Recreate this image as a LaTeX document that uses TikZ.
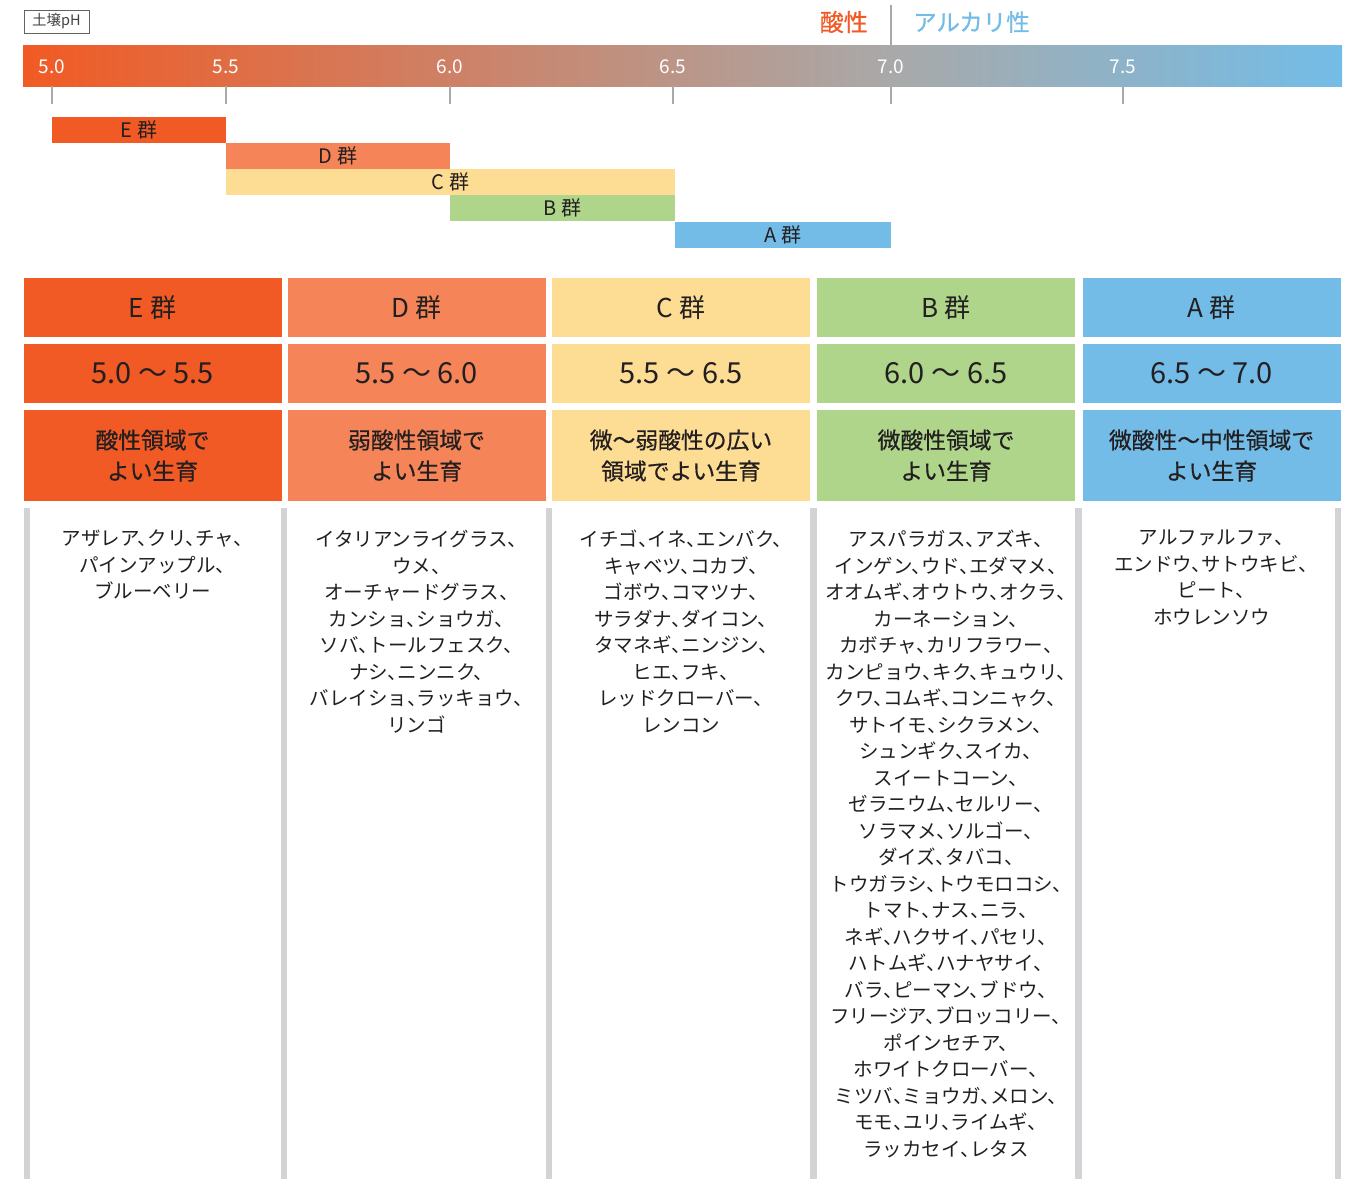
\documentclass[tikz,border=0pt]{standalone}
\usepackage{fontspec}
\setmainfont{Noto Sans CJK JP}
\newfontfamily\jp{Noto Sans CJK JP}
\newfontfamily\jpp{Noto Sans CJK JP}[RawFeature=+halt]
\newfontfamily\jpm{Noto Sans CJK JP}[FakeBold=0.6]
\definecolor{colE}{HTML}{F15A24}
\definecolor{colD}{HTML}{F58558}
\definecolor{colC}{HTML}{FDDC94}
\definecolor{colB}{HTML}{AED58A}
\definecolor{colA}{HTML}{73BCE7}
\definecolor{phmid}{HTML}{A9A9A9}
\definecolor{txt}{HTML}{231F20}
\definecolor{sepgray}{HTML}{D1D3D4}
\definecolor{tickgray}{HTML}{A7A9AC}
\tikzset{
  bar/.style={inner sep=0, minimum height=26, text=txt, font=\fontsize{20}{21}\selectfont\jp},
  hdr/.style={inner sep=0, minimum width=258, minimum height=59, text=txt, font=\fontsize{26}{28}\selectfont\jp},
  rng/.style={inner sep=0, minimum width=258, minimum height=59, text=txt, font=\fontsize{29}{31}\selectfont\jp},
  dsc/.style={inner sep=0, minimum width=258, minimum height=91, text=txt, align=center, font=\fontsize{22.8}{31}\selectfont\jpm},
  body/.style={inner sep=0, anchor=north, text=txt, align=center, font=\fontsize{19.5}{26.5}\selectfont\jpp},
  ticklbl/.style={inner sep=0, text=white, font=\fontsize{19}{20}\selectfont\jp},
}
\begin{document}
\begin{tikzpicture}[x=1pt,y=-1pt]
\useasboundingbox[fill=white] (0,0) rectangle (1358,1179);
% pH label box
\node[draw=txt!70, line width=0.8, inner sep=0, minimum width=65, minimum height=23, text=txt!85, font=\fontsize{14.5}{15}\selectfont\jp] (phlabel) at (56.5,21.5) {土壌pH};
% acid / alkaline
\node[anchor=east, inner sep=0, text=colE, font=\fontsize{24}{26}\selectfont\jpm] (acid) at (868,22) {酸性};
\node[anchor=west, inner sep=0, text=colA, font=\fontsize{23.5}{26}\selectfont\jpm] (alk) at (913,22) {アルカリ性};
\draw[tickgray, line width=2] (891,5) -- (891,45);
% gradient bar
\shade[left color=colE, right color=phmid] (23,45) rectangle (891.5,86);
\shade[left color=phmid, right color=colA] (891,45) rectangle (1342,86);
% ticks
\foreach \x in {52,226,450,673,891,1123} \draw[tickgray, line width=2] (\x,86) -- (\x,104);
\node[ticklbl] (t50) at (52,67) {5.0};
\node[ticklbl] (t55) at (226,67) {5.5};
\node[ticklbl] (t60) at (450,67) {6.0};
\node[ticklbl] (t65) at (673,67) {6.5};
\node[ticklbl] (t70) at (891,67) {7.0};
\node[ticklbl] (t75) at (1123,67) {7.5};
% range bars
\node[bar, fill=colE, minimum width=174] (barE) at (139,130) {E 群};
\node[bar, fill=colD, minimum width=224] (barD) at (338,156) {D 群};
\node[bar, fill=colC, minimum width=449] (barC) at (450.5,182) {C 群};
\node[bar, fill=colB, minimum width=225] (barB) at (562.5,208) {B 群};
\node[bar, fill=colA, minimum width=216] (barA) at (783,234.5) {A 群};
% header rows
\node[hdr, fill=colE] (hE) at (152.5,307.5) {E 群};
\node[hdr, fill=colD] (hD) at (416.5,307.5) {D 群};
\node[hdr, fill=colC] (hC) at (681,307.5) {C 群};
\node[hdr, fill=colB] (hB) at (946,307.5) {B 群};
\node[hdr, fill=colA] (hA) at (1211.5,307.5) {A 群};
\node[rng, fill=colE] (rE) at (152.5,373.5) {5.0 〜 5.5};
\node[rng, fill=colD] (rD) at (416.5,373.5) {5.5 〜 6.0};
\node[rng, fill=colC] (rC) at (681,373.5) {5.5 〜 6.5};
\node[rng, fill=colB] (rB) at (946,373.5) {6.0 〜 6.5};
\node[rng, fill=colA] (rA) at (1211.5,373.5) {6.5 〜 7.0};
\node[dsc, fill=colE] (dE) at (152.5,455.5) {酸性領域で\\よい生育};
\node[dsc, fill=colD] (dD) at (416.5,455.5) {弱酸性領域で\\よい生育};
\node[dsc, fill=colC] (dC) at (681,455.5) {微〜弱酸性の広い\\領域でよい生育};
\node[dsc, fill=colB] (dB) at (946,455.5) {微酸性領域で\\よい生育};
\node[dsc, fill=colA] (dA) at (1211.5,455.5) {微酸性〜中性領域で\\よい生育};
% separators
\foreach \a/\b in {24/30,281/287,546/552,810/817,1075/1082,1335/1341}
  \fill[sepgray] (\a,508) rectangle (\b,1179);
% body lists
\node[body] (lE) at (152.5,530) {アザレア、クリ、チャ、\\パインアップル、\\ブルーベリー};
\node[body] (lD) at (416.5,530) {イタリアンライグラス、\\ウメ、\\オーチャードグラス、\\カンショ、ショウガ、\\ソバ、トールフェスク、\\ナシ、ニンニク、\\バレイショ、ラッキョウ、\\リンゴ};
\node[body] (lC) at (681,530) {イチゴ、イネ、エンバク、\\キャベツ、コカブ、\\ゴボウ、コマツナ、\\サラダナ、ダイコン、\\タマネギ、ニンジン、\\ヒエ、フキ、\\レッドクローバー、\\レンコン};
\node[body] (lB) at (946,530) {アスパラガス、アズキ、\\インゲン、ウド、エダマメ、\\オオムギ、オウトウ、オクラ、\\カーネーション、\\カボチャ、カリフラワー、\\カンピョウ、キク、キュウリ、\\クワ、コムギ、コンニャク、\\サトイモ、シクラメン、\\シュンギク、スイカ、\\スイートコーン、\\ゼラニウム、セルリー、\\ソラマメ、ソルゴー、\\ダイズ、タバコ、\\トウガラシ、トウモロコシ、\\トマト、ナス、ニラ、\\ネギ、ハクサイ、パセリ、\\ハトムギ、ハナヤサイ、\\バラ、ピーマン、ブドウ、\\フリージア、ブロッコリー、\\ポインセチア、\\ホワイトクローバー、\\ミツバ、ミョウガ、メロン、\\モモ、ユリ、ライムギ、\\ラッカセイ、レタス};
\node[body] (lA) at (1211.5,530) {アルファルファ、\\エンドウ、サトウキビ、\\ピート、\\ホウレンソウ};
\end{tikzpicture}
\end{document}
